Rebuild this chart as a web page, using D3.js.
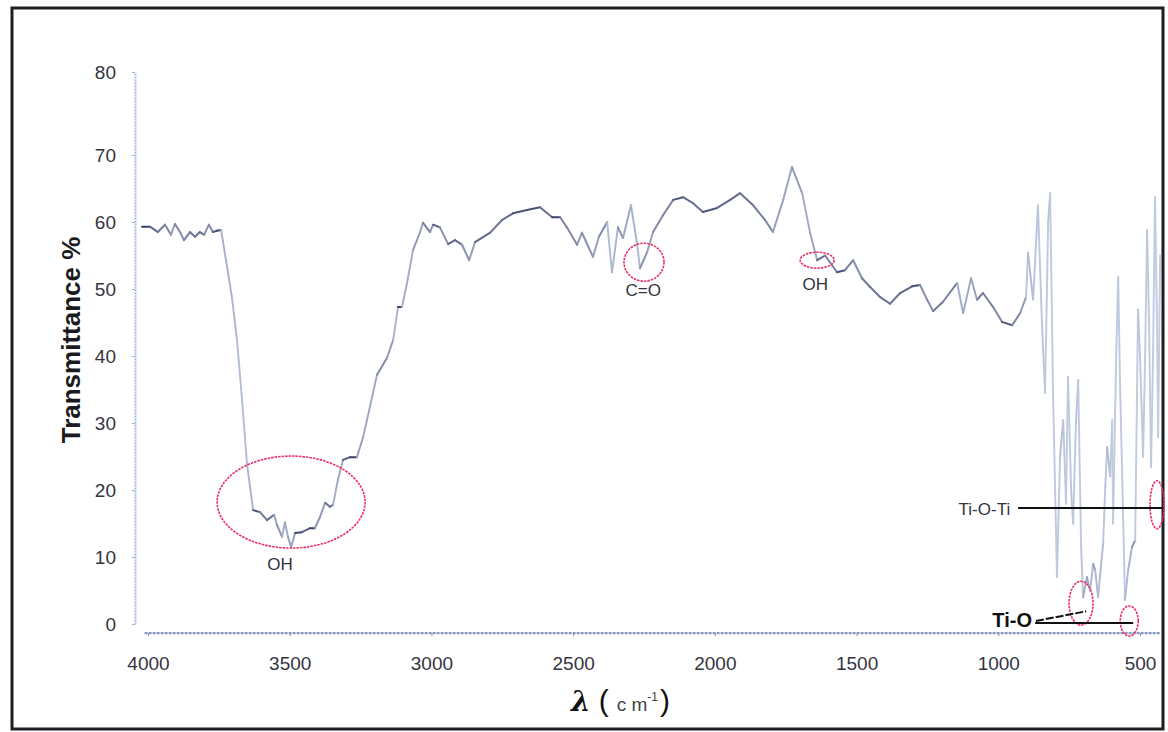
<!DOCTYPE html>
<meta charset="utf-8">
<script src="https://d3js.org/d3.v7.min.js"></script>
<style>
  body { margin: 0; background: #fff; }
  text { font-family: "Liberation Sans", Arial, sans-serif; }
</style>
<div id="chart"></div>
<script>
  // spectrum (wavenumber cm-1, transmittance %)
  var wavenumber = [4021, 3993, 3965, 3940, 3919, 3905, 3887, 3873, 3852, 3834, 3817, 3802, 3785, 3771, 3757, 3742,
    3721, 3704, 3686, 3668, 3651, 3629, 3605, 3580, 3555, 3545, 3527, 3517, 3506, 3495, 3481, 3457, 3428, 3411,
    3393, 3375, 3358, 3347, 3330, 3312, 3287, 3263, 3241, 3217, 3192, 3157, 3135, 3118, 3104, 3086, 3065, 3040, 3030,
    3005, 2994, 2970, 2941, 2917, 2892, 2867, 2846, 2793, 2751, 2712, 2663, 2617, 2574, 2546, 2522, 2486, 2469,
    2430, 2409, 2380, 2363, 2342, 2324, 2296, 2275, 2264, 2239, 2218, 2183, 2147, 2112, 2077, 2042, 1992, 1946,
    1911, 1865, 1823, 1795, 1759, 1728, 1692, 1664, 1639, 1611, 1569, 1541, 1512, 1481, 1452, 1417, 1382, 1346,
    1304, 1276, 1251, 1230, 1195, 1145, 1124, 1096, 1075, 1054, 1018, 987, 951, 923, 902,
    895, 877, 860, 846, 835, 824, 817, 807, 793, 782, 771, 761, 754, 743, 736, 726, 718, 708, 701, 687, 676,
    665, 658, 648, 637, 630, 623, 616, 605, 598, 595, 584, 577, 570, 563, 553, 542, 528, 517, 507, 500, 489,
    482, 475, 468, 461, 454, 447, 440, 436, 429];
  var transmittance = [59.3, 59.3, 58.5, 59.6, 58.1, 59.7, 58.5, 57.3, 58.5, 57.8, 58.5, 58.1, 59.6, 58.5, 58.7, 58.8,
    53.3, 48.8, 42.4, 33.4, 24.0, 17.0, 16.7, 15.5, 16.3, 14.8, 13.0, 15.2, 13.0, 11.5, 13.6, 13.7, 14.3, 14.3,
    16.0, 18.1, 17.5, 17.8, 21.5, 24.5, 24.9, 24.9, 27.9, 32.4, 37.2, 39.7, 42.4, 47.3, 47.3, 50.9, 55.8, 58.5, 59.9,
    58.5, 59.6, 59.2, 56.7, 57.3, 56.6, 54.3, 57.0, 58.4, 60.3, 61.3, 61.8, 62.2, 60.7, 60.7, 59.2, 56.6, 58.4,
    54.8, 57.8, 60.0, 52.5, 59.2, 57.6, 62.5, 56.9, 53.1, 55.5, 58.5, 61.0, 63.3, 63.7, 62.8, 61.5, 62.1, 63.3,
    64.3, 62.5, 60.3, 58.5, 63.3, 68.2, 64.3, 58.4, 54.3, 55.0, 52.5, 52.8, 54.3, 51.6, 50.3, 48.8, 47.8, 49.4,
    50.4, 50.6, 48.4, 46.7, 48.1, 50.9, 46.4, 51.6, 48.4, 49.4, 47.3, 45.1, 44.6, 46.4, 48.8,
    55.4, 48.4, 62.5, 45.0, 34.5, 60.0, 64.3, 35.0, 7.0, 25.0, 30.4, 18.0, 36.9, 20.0, 15.0, 30.0, 36.4, 12.0, 4.0, 7.0, 5.0,
    9.0, 8.0, 4.0, 9.0, 12.0, 20.0, 26.4, 22.0, 30.4, 15.0, 40.0, 51.8, 35.0, 22.5, 3.6, 8.0, 11.5, 12.5, 46.9, 40.0, 25.0,
    40.0, 58.8, 45.0, 23.4, 40.0, 63.7, 45.0, 27.9, 55.0];

  var xTicks = [4000, 3500, 3000, 2500, 2000, 1500, 1000, 500];
  var yTicks = [0, 10, 20, 30, 40, 50, 60, 70, 80];

  // annotation anchors, in data units
  var ellipses = [
    { wn: 3495, t: 18.2, rx: 74, ry: 46 },
    { wn: 2250, t: 54.0, rx: 20, ry: 19 },
    { wn: 1639, t: 54.3, rx: 17, ry: 8 },
    { wn: 440, t: 17.8, rx: 7, ry: 24 },
    { wn: 708, t: 3.1, rx: 12, ry: 22 },
    { wn: 538, t: 0.45, rx: 9, ry: 15 }
  ];
  var labels = [
    { text: "OH", wn: 3534, t: 8.1 },
    { text: "C=O", wn: 2253, t: 49.0 },
    { text: "OH", wn: 1646, t: 49.9 }
  ];

  var width = 1168, height = 732;

  var svg = d3.select("#chart").append("svg")
    .attr("width", width)
    .attr("height", height);

  svg.append("rect")
    .attr("width", width).attr("height", height)
    .attr("fill", "#fff");

  // outer frame
  svg.append("rect")
    .attr("x", 12).attr("y", 8)
    .attr("width", 1151).attr("height", 721)
    .attr("fill", "none")
    .attr("stroke", "#1e1e24")
    .attr("stroke-width", 3);

  var x = d3.scaleLinear().domain([4000, 500]).range([148, 1140]);
  // the top tick sits a bit higher than the spacing of the others
  var y = d3.scaleLinear().domain([0, 70, 80]).range([624, 155, 72]);

  // y axis
  var yAxis = svg.append("g")
    .attr("transform", "translate(" + x(4046) + ",0)")
    .call(d3.axisLeft(y).tickValues(yTicks).tickFormat(d3.format("d"))
      .tickSize(3).tickPadding(16).tickSizeOuter(0));
  yAxis.select(".domain")
    .attr("stroke", "#a9b9d6")
    .attr("stroke-width", 2)
    .attr("stroke-dasharray", "2,1");
  yAxis.selectAll(".tick line").attr("stroke", "#9fb0d0");
  yAxis.selectAll(".tick text")
    .attr("fill", "#34343f")
    .style("font-size", "19px");

  // x axis, drawn a little below zero as in the original
  var xAxisY = y(-1.35);
  var xAxis = svg.append("g")
    .attr("transform", "translate(0," + xAxisY + ")")
    .call(d3.axisBottom(x).tickValues(xTicks).tickFormat(d3.format("d"))
      .tickSize(3).tickPadding(20).tickSizeOuter(0));
  xAxis.select(".domain").remove();
  xAxis.append("line")
    .attr("x1", x(4012)).attr("x2", x(428))
    .attr("stroke", "#8797bd")
    .attr("stroke-width", 2.2)
    .attr("stroke-dasharray", "3,1");
  xAxis.selectAll(".tick line").attr("stroke", "#7b8bb3");
  xAxis.selectAll(".tick text")
    .attr("fill", "#34343f")
    .style("font-size", "19px");

  // spectrum: flat runs look dark, steep runs light (sparse points in the scan)
  var pts = wavenumber.map(function (w, i) { return [x(w), y(transmittance[i])]; });
  var shade = d3.interpolateRgb("#c3cee3", "#3a4066");
  var segs = d3.pairs(pts);
  svg.append("g").selectAll("line")
    .data(segs)
    .enter()
    .append("line")
    .attr("x1", function (d) { return d[0][0]; })
    .attr("y1", function (d) { return d[0][1]; })
    .attr("x2", function (d) { return d[1][0]; })
    .attr("y2", function (d) { return d[1][1]; })
    .attr("stroke", function (d) {
      var dx = Math.abs(d[1][0] - d[0][0]), dy = Math.abs(d[1][1] - d[0][1]);
      var steep = dy / Math.max(dx, 0.5);
      return shade(1 / (1 + steep / 1.6));
    })
    .attr("stroke-width", 2)
    .attr("stroke-dasharray", function (d) {
      var dx = Math.abs(d[1][0] - d[0][0]), dy = Math.abs(d[1][1] - d[0][1]);
      return dy > 2.5 * dx ? "1.5,1" : null;
    })
    .attr("stroke-linecap", "round");

  // red dashed ellipses
  svg.append("g").selectAll("ellipse")
    .data(ellipses)
    .enter()
    .append("ellipse")
    .attr("cx", function (d) { return x(d.wn); })
    .attr("cy", function (d) { return y(d.t); })
    .attr("rx", function (d) { return d.rx; })
    .attr("ry", function (d) { return d.ry; })
    .attr("fill", "none")
    .attr("stroke", "#ea2f62")
    .attr("stroke-width", 1.6)
    .attr("stroke-dasharray", "2.5,1");

  svg.append("g").selectAll("text")
    .data(labels)
    .enter()
    .append("text")
    .attr("x", function (d) { return x(d.wn); })
    .attr("y", function (d) { return y(d.t); })
    .attr("text-anchor", "middle")
    .attr("fill", "#33333d")
    .style("font-size", "17px")
    .text(function (d) { return d.text; });

  // Ti-O-Ti pointer
  svg.append("line")
    .attr("x1", x(930)).attr("x2", x(422))
    .attr("y1", y(17.3)).attr("y2", y(17.3))
    .attr("stroke", "#111").attr("stroke-width", 2);
  svg.append("text")
    .attr("x", x(958)).attr("y", y(16.2))
    .attr("text-anchor", "end")
    .attr("fill", "#33333d")
    .style("font-size", "17px")
    .text("Ti-O-Ti");

  // Ti-O pointers
  svg.append("line")
    .attr("x1", x(870)).attr("x2", x(524))
    .attr("y1", y(0.15)).attr("y2", y(0.15))
    .attr("stroke", "#111").attr("stroke-width", 2);
  svg.append("line")
    .attr("x1", x(867)).attr("x2", x(690))
    .attr("y1", y(0.45)).attr("y2", y(1.9))
    .attr("stroke", "#111").attr("stroke-width", 2)
    .attr("stroke-dasharray", "8,2");
  svg.append("text")
    .attr("x", x(881)).attr("y", y(-0.5))
    .attr("text-anchor", "end")
    .attr("fill", "#111")
    .style("font-size", "20px")
    .style("font-weight", "bold")
    .text("Ti-O");

  // axis titles
  svg.append("text")
    .attr("transform", "translate(80,340) rotate(-90)")
    .attr("text-anchor", "middle")
    .attr("fill", "#1a1a20")
    .style("font-size", "26px")
    .style("font-weight", "bold")
    .text("Transmittance %");

  var xl = svg.append("text")
    .attr("x", 571).attr("y", 711)
    .attr("fill", "#111");
  xl.append("tspan")
    .style("font-family", "'DejaVu Serif', serif")
    .style("font-style", "italic")
    .style("font-weight", "bold")
    .style("font-size", "28px")
    .text("λ");
  xl.append("tspan")
    .attr("dx", 8)
    .style("font-size", "30px")
    .text("(");
  xl.append("tspan")
    .attr("dx", 8)
    .attr("fill", "#444")
    .style("font-size", "19px")
    .text("c m");
  xl.append("tspan")
    .attr("dy", -10)
    .attr("fill", "#444")
    .style("font-size", "12px")
    .text("-1");
  xl.append("tspan")
    .attr("dy", 10)
    .attr("dx", 2)
    .style("font-size", "30px")
    .text(")");
</script>
